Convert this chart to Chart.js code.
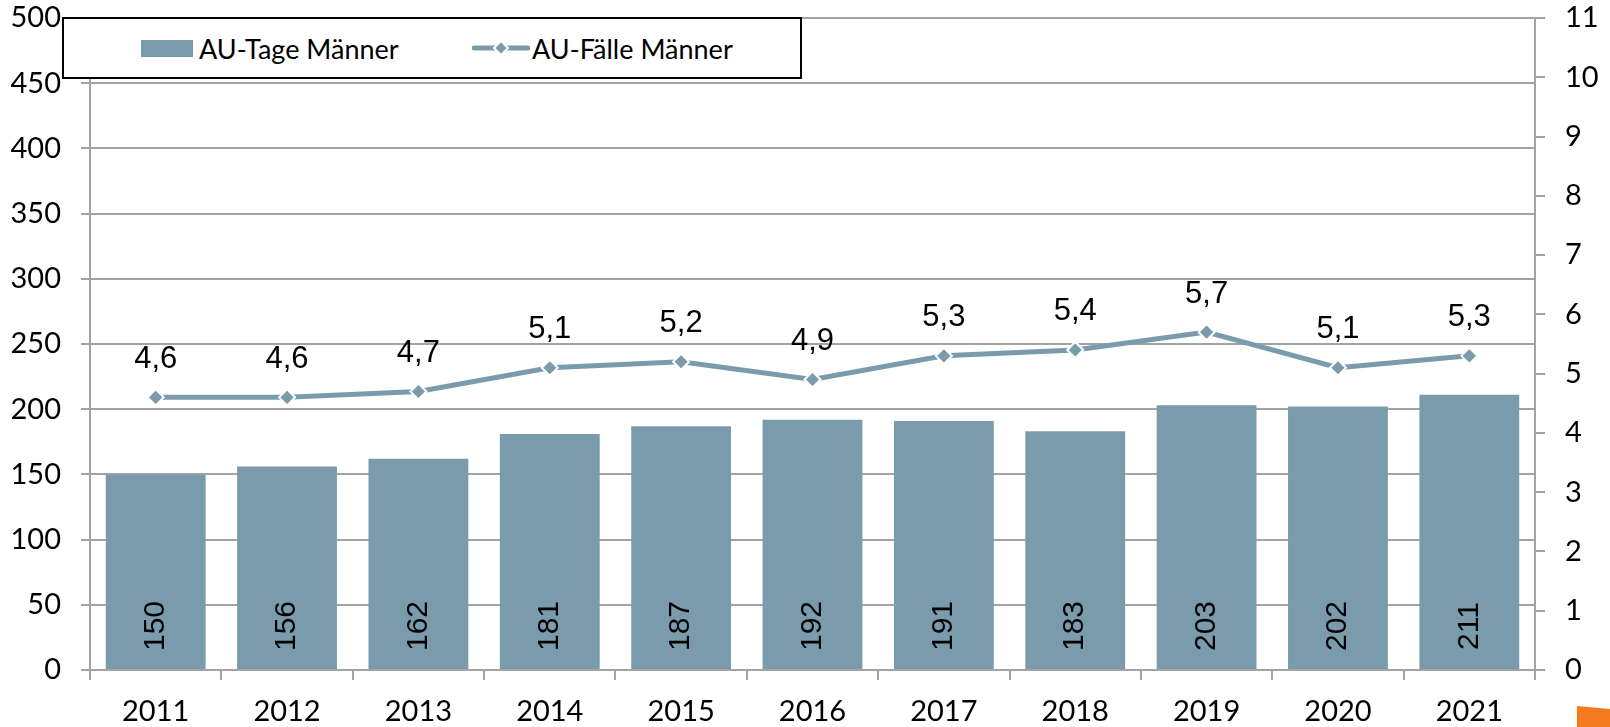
<!DOCTYPE html>
<html>
<head>
<meta charset="utf-8">
<script src="https://cdn.jsdelivr.net/npm/chart.js@4/dist/chart.umd.min.js"></script>
<style>
  html, body { margin: 0; padding: 0; background: #fff; }
  #wrap { position: relative; width: 1610px; height: 727px; overflow: hidden; }
  #legend {
    position: absolute; left: 62px; top: 17px; width: 736px; height: 58px;
    border: 2px solid #000; background: #fff;
    font-family: Lato, sans-serif; font-size: 27px; color: #000;
  }
  .lg-item { position: absolute; top: 0; height: 58px; display: flex; align-items: center; }
  .orange {
    position: absolute; left: 1577px; top: 706px; width: 33px; height: 21px;
    background: #f47b20; clip-path: polygon(0 0, 100% 14%, 100% 100%, 0 100%);
  }
</style>
</head>
<body>
<div id="wrap">
  <canvas id="chart" width="1610" height="727"></canvas>
  <div id="legend">
    <div class="lg-item" style="left:77px">
      <span style="display:inline-block;width:52px;height:17px;background:#7a9bab;margin-right:6px"></span>
      <span>AU-Tage Männer</span>
    </div>
    <div class="lg-item" style="left:408px">
      <svg width="58" height="20" style="margin-right:2px">
        <line x1="2" y1="10" x2="56" y2="10" stroke="#7a9bab" stroke-width="5" stroke-linecap="round"/>
        <polygon points="29,3 36,10 29,17 22,10" fill="#7a9bab" stroke="#fff" stroke-width="2"/>
      </svg>
      <span>AU-Fälle Männer</span>
    </div>
  </div>
  <div class="orange"></div>
</div>
<script>
// Daten
const years = ["2011", "2012", "2013", "2014", "2015", "2016", "2017", "2018", "2019", "2020", "2021"];
const auTage = [150, 156, 162, 181, 187, 192, 191, 183, 203, 202, 211];
const auFaelle = [4.6, 4.6, 4.7, 5.1, 5.2, 4.9, 5.3, 5.4, 5.7, 5.1, 5.3];

const barColor = "#7a9bab";
const gridColor = "#a3a3a3";
const tickFont = { family: "Lato", size: 29 };

// Beschriftungen der Werte zeichnen
const valueLabels = {
  id: "valueLabels",
  afterDatasetsDraw(chart) {
    const ctx = chart.ctx;
    const base = chart.scales.y.getPixelForValue(0);
    ctx.save();
    ctx.fillStyle = "#000";
    ctx.textAlign = "center";
    ctx.textBaseline = "middle";

    // Balken: senkrecht, nahe der Basis
    ctx.font = "30px 'Liberation Sans', Arial, sans-serif";
    chart.getDatasetMeta(0).data.forEach((bar, i) => {
      ctx.save();
      ctx.translate(bar.x, base - 44);
      ctx.rotate(-Math.PI / 2);
      ctx.fillText(String(auTage[i]), 0, 0);
      ctx.restore();
    });

    // Linie: über den Punkten
    ctx.font = "31px 'Liberation Sans', Arial, sans-serif";
    chart.getDatasetMeta(1).data.forEach((pt, i) => {
      ctx.fillText(auFaelle[i].toFixed(1).replace(".", ","), pt.x, pt.y - 38);
    });
    ctx.restore();
  }
};

// feste Breite der y-Achsen, ohne zusätzlichen Rand oben/unten
const fixWidth = (w) => (scale) => {
  scale.width = w;
  scale.paddingTop = 0;
  scale.paddingBottom = 0;
};

new Chart(document.getElementById("chart"), {
  type: "bar",
  data: {
    labels: years,
    datasets: [
      {
        label: "AU-Tage Männer",
        data: auTage,
        backgroundColor: barColor,
        yAxisID: "y",
        order: 1,
        categoryPercentage: 0.8,
        barPercentage: 0.95
      },
      {
        type: "line",
        label: "AU-Fälle Männer",
        data: auFaelle,
        borderColor: barColor,
        borderWidth: 5,
        backgroundColor: barColor,
        pointStyle: "rectRot",
        pointRadius: 8,
        pointBorderColor: "#fff",
        pointBorderWidth: 2,
        pointBackgroundColor: barColor,
        tension: 0,
        yAxisID: "y1",
        order: 0
      }
    ]
  },
  options: {
    responsive: false,
    animation: false,
    layout: { padding: { top: 18, left: 0, right: 0, bottom: 0 } },
    plugins: {
      legend: { display: false },
      tooltip: { enabled: false }
    },
    scales: {
      x: {
        offset: true,
        grid: {
          display: true,
          offset: true,
          drawOnChartArea: false,
          color: gridColor,
          lineWidth: 2,
          tickLength: 10
        },
        border: { display: true, color: gridColor, width: 2 },
        ticks: { color: "#000", font: tickFont, padding: 14, maxRotation: 0 },
        afterFit(scale) { scale.height = 57; }
      },
      y: {
        position: "left",
        min: 0,
        max: 500,
        ticks: { stepSize: 50, color: "#000", font: tickFont, padding: 20 },
        grid: { color: gridColor, lineWidth: 2, tickLength: 9 },
        border: { display: true, color: gridColor, width: 2 },
        afterFit: fixWidth(90)
      },
      y1: {
        position: "right",
        min: 0,
        max: 11,
        ticks: { stepSize: 1, color: "#000", font: tickFont, padding: 20 },
        grid: { drawOnChartArea: false, color: gridColor, lineWidth: 2, tickLength: 10 },
        border: { display: true, color: gridColor, width: 2 },
        afterFit: fixWidth(75)
      }
    }
  },
  plugins: [valueLabels]
});
</script>
</body>
</html>
